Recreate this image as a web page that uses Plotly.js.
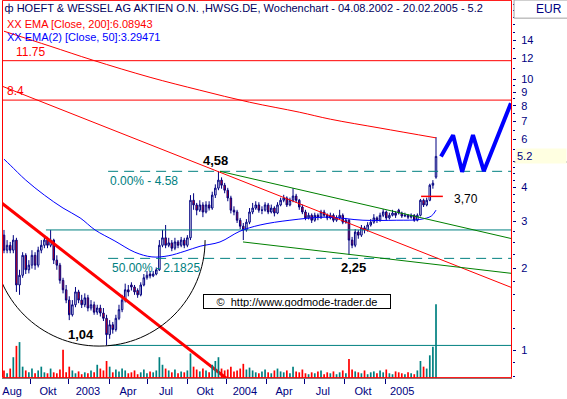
<!DOCTYPE html>
<html><head><meta charset="utf-8">
<script src="https://cdn.plot.ly/plotly-3.0.1.min.js"></script>
<style>html,body{margin:0;padding:0;background:#fff;}#chart{width:567px;height:399px;}</style>
</head><body><div id="chart"></div>
<script>
// ---- weekly candles (week index 0 = first week of Aug 2002) ----
const opens = [2.66,2.34,2.44,2.34,2.55,1.74,1.89,2.24,1.98,2.06,
2.24,2.06,2.34,2.44,2.55,2.44,2.55,2.15,2.06,1.81,
1.67,1.53,1.35,1.47,1.64,1.53,1.47,1.56,1.43,1.47,
1.38,1.43,1.37,1.31,1.14,1.24,1.19,1.31,1.41,1.53,
1.67,1.74,1.71,1.66,1.60,1.74,1.85,1.91,1.88,1.91,
1.98,2.44,2.60,2.44,2.49,2.38,2.51,2.44,2.55,2.44,
2.60,3.58,3.44,3.29,3.44,3.24,3.44,3.35,3.74,3.97,
4.25,4.07,3.90,3.65,3.29,3.24,3.02,2.87,2.78,2.97,
3.24,3.35,3.44,3.29,3.29,3.44,3.24,3.35,3.21,3.44,
3.58,3.65,3.44,3.58,3.71,3.58,3.38,3.24,3.08,3.15,
3.02,3.15,3.10,3.24,3.15,3.08,3.15,3.02,3.08,3.15,
2.97,3.02,2.55,2.44,2.73,2.66,2.83,2.78,2.90,2.97,
3.08,3.02,3.15,3.24,3.08,3.15,3.21,3.29,3.21,3.13,
3.15,3.10,3.15,3.02,3.15,3.58,3.44,3.58,4.07,4.36];
const highs = [2.78,2.55,2.51,2.66,2.60,1.98,2.30,2.28,2.15,2.34,
2.30,2.41,2.55,2.66,2.62,2.78,2.58,2.24,2.10,1.85,
1.74,1.58,1.53,1.71,1.67,1.60,1.62,1.60,1.53,1.51,
1.47,1.47,1.43,1.35,1.29,1.27,1.35,1.47,1.60,1.76,
1.74,1.78,1.74,1.69,1.78,1.91,1.96,1.96,1.96,2.02,
2.55,2.78,2.90,2.60,2.55,2.60,2.55,2.62,2.60,2.66,
3.74,3.80,3.50,3.58,3.52,3.55,3.55,3.85,4.10,4.58,
4.35,4.15,3.98,3.72,3.40,3.30,3.08,2.95,3.05,3.35,
3.50,3.55,3.52,3.40,3.52,3.50,3.45,3.40,3.52,3.66,
3.75,3.70,3.66,3.97,3.78,3.62,3.45,3.30,3.22,3.20,
3.22,3.20,3.30,3.30,3.20,3.22,3.20,3.15,3.30,3.20,
3.08,3.05,2.62,2.80,2.78,2.90,2.88,2.97,3.05,3.18,
3.12,3.22,3.32,3.28,3.22,3.30,3.26,3.33,3.25,3.22,
3.18,3.20,3.18,3.20,3.62,3.63,3.66,4.12,4.25,6.13];
const lows = [2.28,2.28,2.28,2.28,1.64,1.60,1.85,1.91,1.92,2.00,
1.98,2.02,2.28,2.38,2.38,2.40,2.08,1.98,1.76,1.62,
1.49,1.29,1.33,1.44,1.49,1.43,1.44,1.39,1.40,1.35,
1.35,1.33,1.28,1.04,1.10,1.15,1.17,1.29,1.38,1.50,
1.58,1.66,1.60,1.56,1.58,1.72,1.82,1.84,1.86,1.89,
1.96,2.40,2.38,2.40,2.32,2.34,2.38,2.40,2.38,2.40,
2.55,3.30,3.15,3.24,3.10,3.20,3.28,3.30,3.65,3.90,
3.95,3.80,3.55,3.20,3.15,2.95,2.80,2.55,2.74,2.92,
3.18,3.30,3.22,3.18,3.25,3.18,3.20,3.12,3.18,3.40,
3.52,3.38,3.40,3.52,3.50,3.30,3.18,3.02,3.04,2.95,
2.98,3.02,3.05,3.10,3.02,3.04,2.97,2.98,3.05,2.92,
2.93,2.25,2.38,2.40,2.58,2.62,2.70,2.74,2.86,2.93,
2.95,2.98,3.10,3.02,3.04,3.12,3.08,3.17,3.08,3.10,
3.05,3.06,2.98,2.99,3.12,3.38,3.40,3.55,3.95,4.30];
const closes = [2.34,2.44,2.34,2.55,1.74,1.89,2.24,1.98,2.06,2.24,
2.06,2.34,2.44,2.55,2.44,2.55,2.15,2.06,1.81,1.67,
1.53,1.35,1.47,1.64,1.53,1.47,1.56,1.43,1.47,1.38,
1.43,1.37,1.31,1.14,1.24,1.19,1.31,1.41,1.53,1.67,
1.64,1.71,1.64,1.60,1.74,1.85,1.89,1.88,1.91,1.98,
2.44,2.60,2.44,2.49,2.38,2.51,2.44,2.55,2.44,2.60,
3.58,3.44,3.29,3.44,3.24,3.44,3.35,3.74,3.97,4.25,
4.07,3.90,3.65,3.29,3.24,3.02,2.87,2.78,2.97,3.24,
3.35,3.44,3.29,3.29,3.44,3.24,3.35,3.21,3.44,3.58,
3.65,3.44,3.58,3.71,3.58,3.38,3.24,3.08,3.15,3.02,
3.15,3.10,3.24,3.15,3.08,3.15,3.02,3.08,3.15,2.97,
3.02,2.55,2.44,2.73,2.66,2.83,2.78,2.90,2.97,3.08,
3.02,3.15,3.24,3.08,3.15,3.21,3.15,3.21,3.13,3.15,
3.10,3.15,3.02,3.15,3.58,3.44,3.58,4.07,4.14,5.20];
const volumes = [8,5,10,22,34,38,12,8,6,10,
5,8,12,6,5,10,6,5,9,30,
6,12,8,5,7,4,6,5,8,6,
14,10,8,18,12,6,9,7,10,8,
5,6,8,4,6,9,5,7,6,8,
22,14,10,8,6,9,5,7,6,8,
26,12,9,7,10,8,6,14,18,22,
10,8,9,12,7,8,10,15,9,11,
8,6,5,7,9,6,5,8,10,7,
6,8,5,12,7,6,9,5,4,6,
5,7,8,4,6,5,7,4,6,8,
5,20,9,7,6,5,8,4,6,7,
5,8,6,9,5,4,7,6,5,4,
6,5,4,8,18,12,10,24,33,78];
const weeks = closes.map((_, i) => i);

// moving averages (week index, value)
const ema200Weeks = [0, 14.8, 28.6, 47, 63, 79, 95, 105, 121, 139];
const ema200Values = [15.1, 13.3, 11.8, 10.2, 9.14, 8.25, 7.58, 7.14, 6.62, 6.09];
const ema50Weeks = [0, 2, 7, 13, 19, 24.5, 29.3, 35.7, 42.1, 47.6, 52.8, 58.2, 63.1, 69.5, 75.9, 82.4, 92, 103.9, 115.5, 126.4, 133.8, 137.5, 139];
const ema50Values = [5.08, 4.83, 4.25, 3.74, 3.35, 3.08, 2.78, 2.53, 2.30, 2.21, 2.23, 2.32, 2.42, 2.51, 2.75, 2.90, 3.02, 3.10, 3.02, 3.02, 3.04, 3.13, 3.29];

// drawn trend lines (week index, price)
const redTrendWeeks = [-0.64, 163.45], redTrendPrices = [9.46, 1.70];
const thickRedWeeks = [-0.64, 76], thickRedPrices = [3.49, 0.717];
const greenUpperWeeks = [69.5, 163.45], greenUpperPrices = [4.58, 2.58];
const greenLowerWeeks = [76.9, 163.45], greenLowerPrices = [2.51, 1.92];
const mark370Weeks = [134.2, 141.2], mark370Prices = [3.70, 3.70];
const projectionWeeks = [140.6, 144.5, 147.4, 150.9, 154.4, 163.1];
const projectionPrices = [5.2, 6.23, 4.56, 6.23, 4.59, 8.18];
// horizontal levels
const levelPrices = [11.75, 8.4, 2.78, 4.58, 2.1825, 1.04];
const levelStartWeeks = [-1, -1, 13.5, 33.5, 33.5, 33.5];
const levelColors = ['#ff0000', '#ff0000', '#008080', '#008080', '#008080', '#008080'];
const levelDashed = [false, false, false, true, true, false];
// rounded bottom (circle): centre week, centre price, radius in weeks, radius in log-decades
const arcCentreWeek = 30.6, arcCentrePrice = 2.55, arcRadiusWeeks = 34.1, arcRadiusDecades = 0.392;

// axis labels
const xLabels = ['Aug','Okt','2003','Apr','Jul','Okt','2004','Apr','Jul','Okt','2005'];
const xLabelWeeks = [2.6, 14.2, 27.0, 39.9, 52.1, 64.7, 77.5, 90.1, 102.6, 115.5, 128.1];
const xQuarterWeeks = [8.4, 20.9, 33.8, 46.3, 59.2, 71.7, 84.3, 96.8, 109.7, 122.6];
const yTicks = [1,2,3,4,6,7,8,9,10,12,14];
const yMinor = [0.8,0.9,1.2,1.4,1.6,1.8,2.25,2.5,2.75,3.25,3.5,3.75,4.25,4.5,4.75,5,5.5,6.5,7.5,8.5,9.5,11,13,15,16,17,18,19];

const navy = '#000080', teal = '#008080';
const traces = [];
traces.push({type:'bar', x:weeks, y:volumes, yaxis:'y2', width:0.55,
  marker:{color:closes.map((c,i)=> c>=opens[i] ? teal : '#ff0000'), line:{width:0}}, hoverinfo:'skip'});
levelPrices.forEach((p,k)=>{
  traces.push({type:'scatter', mode:'lines', x:[levelStartWeeks[k], 170], y:[p,p],
    line:{color:levelColors[k], width:1, dash: levelDashed[k] ? '10px,6px' : 'solid'}, hoverinfo:'skip'});
});
traces.push({type:'scatter', mode:'lines', x:ema200Weeks, y:ema200Values, line:{color:'#ff0000', width:1, shape:'spline'}, hoverinfo:'skip'});
traces.push({type:'scatter', mode:'lines', x:ema50Weeks, y:ema50Values, line:{color:'#0000ff', width:1, shape:'spline'}, hoverinfo:'skip'});
traces.push({type:'scatter', mode:'lines', x:redTrendWeeks, y:redTrendPrices, line:{color:'#ff0000', width:1}, hoverinfo:'skip'});
traces.push({type:'scatter', mode:'lines', x:greenUpperWeeks, y:greenUpperPrices, line:{color:'#008000', width:1}, hoverinfo:'skip'});
traces.push({type:'scatter', mode:'lines', x:greenLowerWeeks, y:greenLowerPrices, line:{color:'#008000', width:1}, hoverinfo:'skip'});
traces.push({type:'scatter', mode:'lines', x:thickRedWeeks, y:thickRedPrices, line:{color:'#ff0000', width:3}, hoverinfo:'skip'});
traces.push({type:'candlestick', x:weeks, open:opens, high:highs, low:lows, close:closes,
  increasing:{line:{color:navy, width:1}, fillcolor:'#ffffff'},
  decreasing:{line:{color:navy, width:1}, fillcolor:'#ff0000'},
  whiskerwidth:0, hoverinfo:'skip'});
traces.push({type:'scatter', mode:'lines', x:mark370Weeks, y:mark370Prices, line:{color:'#ff0000', width:1.5}, hoverinfo:'skip'});
traces.push({type:'scatter', mode:'lines', x:projectionWeeks, y:projectionPrices, line:{color:'#0000ff', width:4}, hoverinfo:'skip'});

const L = Math.log10, P = v => Math.pow(10, v);
const cx = arcCentreWeek, cy = L(arcCentrePrice), rx = arcRadiusWeeks, ry = arcRadiusDecades, kb = 0.5523;
// path points are given in data units (price), the axis maps them
const arcPath = `M ${cx+rx},${P(cy)} C ${cx+rx},${P(cy-kb*ry)} ${cx+kb*rx},${P(cy-ry)} ${cx},${P(cy-ry)} C ${cx-kb*rx},${P(cy-ry)} ${cx-rx},${P(cy-kb*ry)} ${cx-rx},${P(cy)}`;

const F = 'Liberation Sans, Arial, sans-serif';
const layout = {
  width:567, height:399, margin:{l:2, r:55, t:0, b:21},
  paper_bgcolor:'#ffffff', plot_bgcolor:'#ffffff', showlegend:false,
  font:{family:F, size:11, color:navy},
  title:{text:'ф HOEFT & WESSEL AG AKTIEN O.N. ,HWSG.DE, Wochenchart - 04.08.2002 - 20.02.2005 - 5.2',
    xref:'container', yref:'container', x:0.008, xanchor:'left', y:0.98, yanchor:'middle',
    font:{family:F, size:11, color:'#000060'}},
  xaxis:{range:[-0.64,163.45], tickmode:'array', tickvals:xLabelWeeks, ticktext:xLabels, ticks:'',
    showgrid:false, zeroline:false, showline:true, linecolor:'#808080', rangeslider:{visible:false},
    tickfont:{family:F, size:11, color:navy}, ticklabelstandoff:3,
    minor:{tickmode:'array', tickvals:xQuarterWeeks, ticks:'outside', ticklen:5, tickcolor:navy, showgrid:false}},
  yaxis:{type:'log', side:'right', range:[L(0.788), L(19.7)], tickmode:'array', tickvals:yTicks, ticktext:yTicks.map(String),
    ticks:'outside', ticklen:3, tickcolor:navy, showgrid:false, zeroline:false, showline:false,
    tickfont:{family:F, size:11, color:navy}, ticklabelstandoff:3,
    minor:{tickmode:'array', tickvals:yMinor, ticks:'outside', ticklen:2, tickcolor:navy, showgrid:false}},
  yaxis2:{overlaying:'y', range:[0,400], visible:false, fixedrange:true},
  shapes:[
    {type:'path', xref:'x', yref:'y', path:arcPath, line:{color:'#000000', width:1}},
    {type:'rect', xref:'paper', yref:'paper', x0:0.001, x1:0.999, y0:0.001, y1:0.999, line:{color:'#ff0000', width:1}},
    {type:'rect', xref:'paper', yref:'paper', x0:1.004, x1:1.11, y0:0.952, y1:1.0, line:{color:'#a0a0a0', width:1}, fillcolor:'#ffffff'},
    {type:'line', xref:'paper', yref:'paper', x0:1.004, x1:1.11, y0:0.5714, y1:0.5714, line:{color:'#808080', width:1}}
  ],
  annotations:[
    {xref:'paper', yref:'paper', x:0.006, y:0.9365, xanchor:'left', yanchor:'middle', showarrow:false, text:'XX EMA [Close, 200]:6.08943', font:{family:F, size:11, color:'#ff0000'}},
    {xref:'paper', yref:'paper', x:0.006, y:0.902, xanchor:'left', yanchor:'middle', showarrow:false, text:'XX EMA(2) [Close, 50]:3.29471', font:{family:F, size:11, color:'#0000ff'}},
    {xref:'x', yref:'y', x:8.4, y:L(11.75), yanchor:'bottom', showarrow:false, text:'11.75', font:{family:F, size:12, color:'#ff0000'}},
    {xref:'x', yref:'y', x:0.4, y:L(8.4), xanchor:'left', yanchor:'bottom', showarrow:false, text:'8.4', font:{family:F, size:12, color:'#ff0000'}},
    {xref:'x', yref:'y', x:68.2, y:L(4.58), yanchor:'bottom', yshift:1, showarrow:false, text:'<b>4,58</b>', font:{family:F, size:13, color:'#000000'}},
    {xref:'x', yref:'y', x:33.5, y:L(4.58), xanchor:'left', yanchor:'top', yshift:-1, showarrow:false, text:'0.00% - 4.58', font:{family:F, size:12, color:teal}},
    {xref:'x', yref:'y', x:34.1, y:L(2.1825), xanchor:'left', yanchor:'top', yshift:-1, showarrow:false, text:'50.00% - 2.1825', font:{family:F, size:12, color:teal}},
    {xref:'x', yref:'y', x:24.8, y:L(1.04), yanchor:'bottom', yshift:1, showarrow:false, text:'<b>1,04</b>', font:{family:F, size:13, color:'#000000'}},
    {xref:'x', yref:'y', x:112.3, y:L(2.25), yanchor:'top', yshift:-3, showarrow:false, text:'<b>2,25</b>', font:{family:F, size:13, color:'#000000'}},
    {xref:'x', yref:'y', x:144.1, y:L(3.70), xanchor:'left', yanchor:'middle', yshift:-3, showarrow:false, text:'3,70', font:{family:F, size:12, color:'#000000'}},
    {xref:'paper', yref:'paper', x:0.579, y:0.2024, xanchor:'center', yanchor:'middle', showarrow:false, text:'©  http://www.godmode-trader.de', font:{family:F, size:11, color:'#000000'}, bgcolor:'#ffffff', bordercolor:'#000000', borderwidth:1, borderpad:1, width:184, height:11},
    {xref:'paper', yref:'paper', x:1.0725, y:0.976, xanchor:'center', yanchor:'middle', showarrow:false, text:'EUR', font:{family:F, size:12, color:navy}},
    {xref:'paper', yref:'y', x:1.006, y:L(5.2), xanchor:'left', yanchor:'middle', showarrow:false, text:'5.2', width:48, align:'left', bgcolor:'#ffffe1', font:{family:F, size:11, color:navy}}
  ]
};
Plotly.newPlot('chart', traces, layout, {staticPlot:true, displayModeBar:false});
</script></body></html>
